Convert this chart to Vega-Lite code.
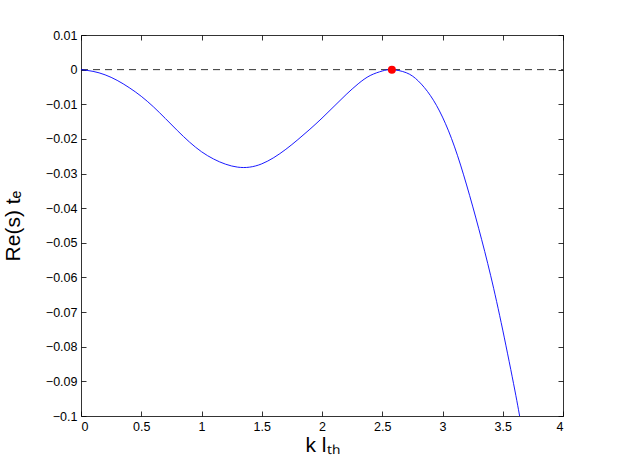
{
  "$schema": "https://vega.github.io/schema/vega-lite/v6.json",
  "width": 482,
  "height": 381,
  "autosize": {"type": "none"},
  "padding": {"left": 81, "top": 35, "right": 59, "bottom": 52},
  "background": "white",
  "config": {
    "view": {"stroke": null},
    "font": "Liberation Sans",
    "axis": {
      "grid": false,
      "domainColor": "#000000",
      "domainWidth": 0.8,
      "tickColor": "#000000",
      "tickWidth": 0.8,
      "tickSize": -5,
      "labelFont": "Liberation Sans",
      "labelFontSize": 12.5,
      "labelColor": "#000000",
      "labelPadding": 9,
      "titleFont": "Liberation Sans",
      "titleFontWeight": "normal",
      "titleColor": "#000000",
      "titleFontSize": 21
    }
  },
  "datasets": {
    "curve": [
      {"k": 0, "re": 0},
      {"k": 0.1, "re": -0.0005},
      {"k": 0.2, "re": -0.0015},
      {"k": 0.3, "re": -0.0031},
      {"k": 0.4, "re": -0.0052},
      {"k": 0.5, "re": -0.0077},
      {"k": 0.6, "re": -0.0107},
      {"k": 0.7, "re": -0.0141},
      {"k": 0.8, "re": -0.0176},
      {"k": 0.9, "re": -0.0209},
      {"k": 1.0, "re": -0.0237},
      {"k": 1.1, "re": -0.0258},
      {"k": 1.2, "re": -0.0273},
      {"k": 1.3, "re": -0.02815},
      {"k": 1.4, "re": -0.02815},
      {"k": 1.5, "re": -0.0272},
      {"k": 1.6, "re": -0.0254},
      {"k": 1.7, "re": -0.023},
      {"k": 1.8, "re": -0.0202},
      {"k": 1.9, "re": -0.0172},
      {"k": 2.0, "re": -0.014},
      {"k": 2.1, "re": -0.0106},
      {"k": 2.2, "re": -0.0072},
      {"k": 2.3, "re": -0.0041},
      {"k": 2.4, "re": -0.0017},
      {"k": 2.5, "re": -0.0004},
      {"k": 2.58, "re": 0},
      {"k": 2.7, "re": -0.0009},
      {"k": 2.8, "re": -0.0033},
      {"k": 2.9, "re": -0.0075},
      {"k": 3.0, "re": -0.0137},
      {"k": 3.1, "re": -0.0223},
      {"k": 3.2, "re": -0.0333},
      {"k": 3.3, "re": -0.0458},
      {"k": 3.4, "re": -0.0595},
      {"k": 3.5, "re": -0.0752},
      {"k": 3.6, "re": -0.0925},
      {"k": 3.65, "re": -0.102}
    ],
    "point": [{"k": 2.58, "re": 0}],
    "zero": [{"k": 0, "re": 0}, {"k": 4, "re": 0}]
  },
  "layer": [
    {
      "data": {"name": "zero"},
      "mark": {"type": "line", "stroke": "#000000", "strokeWidth": 0.8, "strokeDash": [7, 5]},
      "encoding": {
        "x": {
          "field": "k", "type": "quantitative",
          "scale": {"domain": [0, 4], "nice": false, "zero": false},
          "axis": {"orient": "bottom", "title": "k lₜₕ", "values": [0, 0.5, 1, 1.5, 2, 2.5, 3, 3.5, 4], "format": "~g", "titlePadding": 2}
        },
        "y": {
          "field": "re", "type": "quantitative",
          "scale": {"domain": [-0.1, 0.01], "nice": false, "zero": false},
          "axis": {"orient": "left", "title": "Re(s) tₑ", "values": [-0.1, -0.09, -0.08, -0.07, -0.06, -0.05, -0.04, -0.03, -0.02, -0.01, 0, 0.01], "format": "~g", "titlePadding": 22}
        }
      }
    },
    {
      "data": {"name": "curve"},
      "mark": {"type": "line", "clip": true, "color": "#0000ff", "stroke": "#0000ff", "strokeWidth": 0.9, "interpolate": "natural"},
      "encoding": {
        "x": {
          "field": "k", "type": "quantitative",
          "axis": {"orient": "top", "title": null, "labels": false, "values": [0, 0.5, 1, 1.5, 2, 2.5, 3, 3.5, 4]}
        },
        "y": {
          "field": "re", "type": "quantitative",
          "axis": {"orient": "right", "title": null, "labels": false, "values": [-0.1, -0.09, -0.08, -0.07, -0.06, -0.05, -0.04, -0.03, -0.02, -0.01, 0, 0.01]}
        }
      }
    },
    {
      "data": {"name": "point"},
      "mark": {"type": "circle", "size": 64, "color": "#ff0000", "opacity": 1},
      "encoding": {
        "x": {"field": "k", "type": "quantitative", "axis": null},
        "y": {"field": "re", "type": "quantitative", "axis": null}
      }
    }
  ],
  "resolve": {"axis": {"x": "independent", "y": "independent"}}
}
